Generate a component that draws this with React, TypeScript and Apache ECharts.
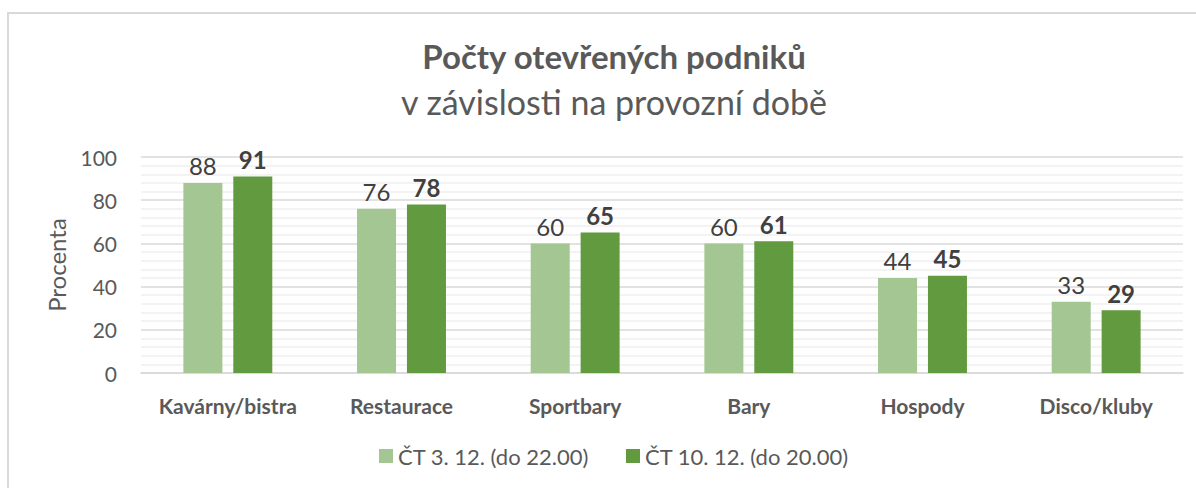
import React, { useEffect, useRef } from "react";
import * as echarts from "echarts";

const categories = ["Kavárny/bistra", "Restaurace", "Sportbary", "Bary", "Hospody", "Disco/kluby"];
const seriesNames = ["ČT 3. 12. (do 22.00)", "ČT 10. 12. (do 20.00)"];
const valuesDec3 = [88, 76, 60, 60, 44, 33];
const valuesDec10 = [91, 78, 65, 61, 45, 29];

const FONT = "Lato, 'Noto Sans', sans-serif";

export default function App() {
  const ref = useRef<HTMLDivElement>(null);
  useEffect(() => {
    document.body.style.margin = "0";
    document.body.style.overflow = "hidden";
    const chart = echarts.init(ref.current!, null, { renderer: "svg" });
    chart.setOption({
      animation: false,
      backgroundColor: "#ffffff",
      textStyle: { fontFamily: FONT },
      title: {
        text: "Počty otevřených podniků",
        subtext: "v závislosti na provozní době",
        left: 609,
        textAlign: "center",
        top: 31,
        itemGap: 5,
        textStyle: { fontFamily: FONT, fontSize: 33, lineHeight: 40, fontWeight: "bold", color: "#595959" },
        subtextStyle: { fontFamily: FONT, fontSize: 34, lineHeight: 40, color: "#595959" },
      },
      graphic: [
        {
          type: "rect",
          shape: { x: 8, y: 13, width: 1200, height: 500 },
          style: { fill: "none", stroke: "#d9d9d9", lineWidth: 2 },
          silent: true,
        },
      ],
      legend: {
        bottom: 16,
        left: 374,
        itemWidth: 14,
        itemHeight: 14,
        itemGap: 37,
        icon: "rect",
        textStyle: { fontFamily: FONT, fontSize: 22, color: "#595959" },
        data: seriesNames,
      },
      grid: { left: 141, right: 13, top: 157, bottom: 115, containLabel: false },
      xAxis: {
        type: "category",
        data: categories,
        axisLine: { show: true, lineStyle: { color: "#d9d9d9", width: 1.5 } },
        axisTick: { show: false },
        axisLabel: { interval: 0, fontFamily: FONT, fontSize: 21, fontWeight: "bold", color: "#595959", margin: 22 },
      },
      yAxis: {
        type: "value",
        min: 0,
        max: 100,
        interval: 20,
        name: "Procenta",
        nameLocation: "middle",
        nameGap: 73,
        nameRotate: 90,
        nameTextStyle: { fontFamily: FONT, fontSize: 24, color: "#595959" },
        axisLine: { show: false },
        axisTick: { show: false },
        axisLabel: { fontFamily: FONT, fontSize: 21, color: "#595959", margin: 24 },
        splitLine: { show: true, lineStyle: { color: "#d9d9d9", width: 1.5 } },
        minorTick: { show: false, splitNumber: 5 },
        minorSplitLine: { show: true, lineStyle: { color: "#efefef", width: 1.5 } },
      },
      series: [
        {
          name: seriesNames[0],
          type: "bar",
          data: valuesDec3,
          barWidth: 39,
          barGap: "28%",
          itemStyle: { color: "#a3c692" },
          label: { show: true, position: "top", distance: 5, fontFamily: FONT, fontSize: 24, color: "#404040" },
        },
        {
          name: seriesNames[1],
          type: "bar",
          data: valuesDec10,
          barWidth: 39,
          barGap: "28%",
          itemStyle: { color: "#619a3f" },
          label: { show: true, position: "top", distance: 5, fontFamily: FONT, fontSize: 24, fontWeight: "bold", color: "#404040" },
        },
      ],
    });
    return () => chart.dispose();
  }, []);
  return <div ref={ref} style={{ position: "absolute", left: 0, top: 0, width: 1196, height: 488 }} />;
}
